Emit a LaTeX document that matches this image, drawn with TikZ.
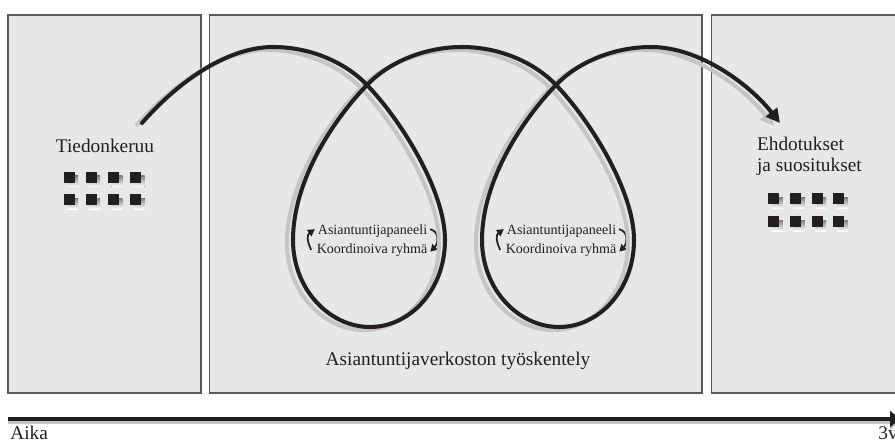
\documentclass[tikz,border=0pt]{standalone}
\usepackage{fontspec}
\setmainfont{Liberation Serif}
\usepackage{tikz}
\usetikzlibrary{arrows.meta}
\usepackage{xcolor}
\definecolor{panel}{HTML}{E6E7E8}
\definecolor{rim}{HTML}{58595B}
\definecolor{ink}{HTML}{231F20}
\definecolor{shade}{HTML}{C4C5C7}

\begin{document}
\begin{tikzpicture}[x=0.02cm,y=-0.02cm,
  box/.style={draw=rim,fill=panel,line width=0.7pt},
  shadowed/.style 2 args={preaction={draw=shade,line width=#2,transform canvas={shift={#1}}}},
  lbl/.style={font=\fontsize{11}{12}\selectfont,text=ink,inner sep=0pt},
  small/.style={font=\fontsize{8}{9}\selectfont,text=ink,inner sep=1.5pt},
  swirl/.style={ink,line width=1pt,looseness=1.2,-{Triangle[length=1.4mm,width=1.5mm]}}]
\useasboundingbox (0,0) rectangle (895,443);
\draw[box] (8,15) rectangle (201,393);
\draw[box] (209.5,15) rectangle (702,393);
\draw[box] (711.7,15) rectangle (905,393);
\foreach \i in {0,...,3} \foreach \j in {0,1} {
  \fill[shade] (67+22.2*\i,175.7+22.3*\j) rectangle +(11,11);
  \fill[ink] (63.5+22.2*\i,171.7+22.3*\j) rectangle +(11,11);
  \fill[shade] (771.8+21.7*\i,197.3+22.7*\j) rectangle +(11,11);
  \fill[ink] (768.3+21.7*\i,193.3+22.7*\j) rectangle +(11,11);
}
\node[lbl,anchor=base] (tied) at (105,152.7) {Tiedonkeruu};
\node[lbl,anchor=north west,align=left] (ehd) at (756.7,137) {Ehdotukset\\ja suositukset};
\node[lbl,anchor=base] (verk) at (458,365) {Asiantuntijaverkoston työskentely};
\node[lbl,anchor=base west] (aika) at (10,439) {Aika};
\node[lbl,anchor=base west] (v3) at (878,439) {3v};
\foreach \n/\d in {1/0,2/189} {
  \node[small,anchor=base] (asi\n) at (372.5+\d,234.3) {Asiantuntijapaneeli};
  \node[small,anchor=base] (koo\n) at (372+\d,253.3) {Koordinoiva ryhmä};
  \draw[swirl] ([xshift=-1.5pt]koo\n.west) to[out=115,in=215] ([yshift=1pt]asi\n.west);
  \draw[swirl] ([yshift=1pt]asi\n.east) to[out=-15,in=45] ([yshift=-1pt]koo\n.east);
  \coordinate (x\n) at (367+\d,85);
  \coordinate (r\n) at (445+\d,240);
  \coordinate (b\n) at (370+\d,327);
  \coordinate (l\n) at (293+\d,240);
}
\coordinate (s) at (142,123);
\coordinate (t1) at (273,47);
\coordinate (t2) at (462,47);
\coordinate (t3) at (651,47);
\coordinate (e) at (780,123);
\draw[ink,line width=2.3pt,line cap=round,-{Triangle[length=2.8mm,width=2.8mm]},shadowed={(-6,3)}{2.3pt}]
  (s) .. controls +(33,-38) and +(-48,0) .. (t1)
  .. controls +(37,0) and +(-22,-23) .. (x1)
  .. controls +(33,34) and +(0,-50) .. (r1)
  .. controls +(0,50) and +(40,0) .. (b1)
  .. controls +(-40,0) and +(0,50) .. (l1)
  .. controls +(0,-60) and +(-33,34) .. (x1)
  .. controls +(22,-23) and +(-37,0) .. (t2)
  .. controls +(37,0) and +(-22,-23) .. (x2)
  .. controls +(33,34) and +(0,-50) .. (r2)
  .. controls +(0,50) and +(40,0) .. (b2)
  .. controls +(-40,0) and +(0,50) .. (l2)
  .. controls +(0,-60) and +(-33,34) .. (x2)
  .. controls +(22,-23) and +(-37,0) .. (t3)
  .. controls +(49,0) and +(-30,-38) .. (e);
\coordinate (t0) at (8,419);
\coordinate (tend) at (900,419);
\draw[ink,line width=2.8pt,-{Triangle[length=2mm,width=3.2mm]},shadowed={(0,2.5)}{2.8pt}] (t0) -- (tend);
\end{tikzpicture}
\end{document}
